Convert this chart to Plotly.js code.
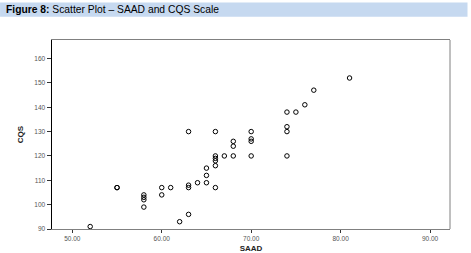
<!DOCTYPE html>
<html>
<head>
<meta charset="utf-8">
<script src="https://cdn.plot.ly/plotly-3.0.1.min.js"></script>
<style>html,body{margin:0;padding:0;background:#fff;}#chart{width:471px;height:253px;}</style>
</head>
<body>
<div id="chart"></div>
<script>
const saad = [52,55,55,58,58,58,58,60,60,61,62,63,63,63,63,64,65,65,65,66,66,66,66,66,66,67,68,68,68,70,70,70,70,74,74,74,74,75,76,77,81];
const cqs  = [91,107,107,104,103,102,99,107,104,107,93,96,130,108,107,109,109,112,115,107,116,118,119,120,130,120,120,124,126,120,126,127,130,120,130,132,138,138,141,147,152];
const xTickVals = [50,60,70,80,90];
const xTickText = ["50.00","60.00","70.00","80.00","90.00"];
const yTickVals = [90,100,110,120,130,140,150,160];

const trace = {
  x: saad, y: cqs, type: 'scatter', mode: 'markers',
  marker: {symbol: 'circle-open', size: 4.5, color: '#000', line: {width: 1, color: '#000'}},
  hoverinfo: 'skip'
};
const layout = {
  width: 471, height: 253,
  margin: {l: 52, r: 20.5, t: 39.7, b: 23.7, pad: 0},
  paper_bgcolor: '#fff', plot_bgcolor: '#fff',
  showlegend: false,
  font: {family: 'Liberation Sans, Arial, sans-serif', color: '#000'},
  xaxis: {
    range: [47.73, 92.23], showgrid: false, zeroline: false,
    showline: true, linecolor: '#808080', linewidth: 1, mirror: true,
    ticks: 'outside', ticklen: 3, tickcolor: '#333', tickwidth: 1,
    tickvals: xTickVals, ticktext: xTickText,
    tickfont: {size: 6.5, color: '#555'},
    title: {text: '<b>SAAD</b>', font: {size: 8, color: '#222'}, standoff: 4}
  },
  yaxis: {
    range: [90, 167.6], showgrid: false, zeroline: false,
    showline: true, linecolor: '#000', linewidth: 1.5,
    ticks: 'outside', ticklen: 4, tickcolor: '#333', tickwidth: 1,
    tickvals: yTickVals,
    tickfont: {size: 6.5, color: '#555'},
    title: {text: '<b>CQS</b>', font: {size: 8, color: '#222'}, standoff: 9}
  },
  shapes: [
    {type: 'rect', xref: 'paper', yref: 'paper', x0: -0.1305, x1: 1.044, y0: 1.123, y1: 1.199,
     fillcolor: '#c6d9f0', line: {width: 0}, layer: 'below'},
    {type: 'line', xref: 'paper', yref: 'paper', x0: 1, x1: 1, y0: 0, y1: 1,
     line: {color: '#808080', width: 1}}
  ],
  annotations: [
    {xref: 'paper', yref: 'paper', x: -0.1205, y: 1.16, xanchor: 'left', yanchor: 'middle',
     showarrow: false, text: '<b>Figure 8:</b> Scatter Plot – SAAD and CQS Scale',
     font: {size: 10.3, color: '#000', family: 'Liberation Sans, Arial, sans-serif'}}
  ]
};
Plotly.newPlot('chart', [trace], layout, {displayModeBar: false, staticPlot: true});
</script>
</body>
</html>
